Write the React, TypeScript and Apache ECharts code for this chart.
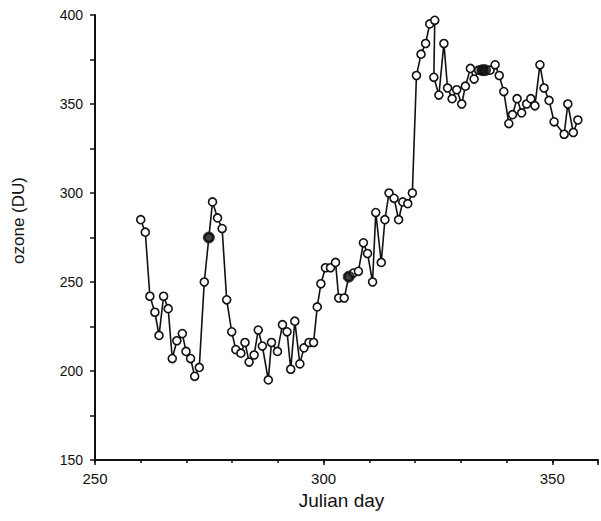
import React, { useEffect, useRef } from "react";
import * as echarts from "echarts";

const days = [
  260, 261, 262, 263.1, 264, 265, 266, 266.9, 267.9, 269.1, 269.9, 270.9, 271.8, 272.8, 273.9, 274.9,
  275.7, 276.8, 277.8, 278.8, 279.9, 280.8, 281.9, 282.8, 283.7, 284.8, 285.7, 286.6, 287.9, 288.6,
  289.9, 291, 292, 292.8, 293.7, 294.8, 295.7, 296.8, 297.8, 298.6, 299.4, 300.4, 301.5, 302.6,
  303.3, 304.5, 305.5, 306.5, 307.6, 308.7, 309.6, 310.7, 311.4, 312.6, 313.4, 314.3, 315.4, 316.4,
  317.3, 318.4, 319.4, 320.3, 321.3, 322.3, 323.2, 324.3, 324.1, 325.2, 326.3, 327.1, 328.1, 329.1,
  330.2, 331, 332.1, 332.9, 333.9, 334.7, 335.3, 336.4, 337.5, 338.4, 339.4, 340.5, 341.3, 342.3,
  343.3, 344.4, 345.3, 346.2, 347.3, 348.2, 349.3, 350.4, 352.6, 353.4, 354.6, 355.6,
];

const ozone = [
  285, 278, 242, 233, 220, 242, 235, 207, 217, 221, 211, 207, 197, 202, 250, 275,
  295, 286, 280, 240, 222, 212, 210, 216, 205, 209, 223, 214, 195, 216,
  211, 226, 222, 201, 228, 204, 213, 216, 216, 236, 249, 258, 258, 261,
  241, 241, 253, 255, 256, 272, 266, 250, 289, 261, 285, 300, 297, 285,
  295, 294, 300, 366, 378, 384, 395, 397, 365, 355, 384, 359, 353, 358,
  350, 360, 370, 364, 369, 369, 369, 369, 372, 366, 357, 339, 344, 353,
  345, 350, 353, 349, 372, 359, 352, 340, 333, 350, 334, 341,
];

// days of the filled (solid) markers
const filledDays = [274.9, 305.5, 334.7, 335.3];

const xTickLabels = [250, 300, 350];
const yTickLabels = [150, 200, 250, 300, 350, 400];

export default function App() {
  const ref = useRef<HTMLDivElement>(null);
  useEffect(() => {
    document.body.style.margin = "0";
    const chart = echarts.init(ref.current!, null, { renderer: "svg" });
    const pts = days.map((d, i) => [d, ozone[i]]);
    const filled = pts.filter((p) => filledDays.includes(p[0] as number));
    const font = "'Liberation Sans', Arial, Helvetica, sans-serif";
    chart.setOption({
      animation: false,
      backgroundColor: "#ffffff",
      grid: { left: 95, right: 0, top: 15, bottom: 61 },
      xAxis: [
        {
          type: "value",
          min: 250,
          max: 360,
          interval: 50,
          name: "Julian day",
          nameLocation: "middle",
          nameGap: 30,
          nameTextStyle: { fontFamily: font, fontSize: 19, color: "#111", padding: [0, 10, 0, 0] },
          axisLine: { show: true, lineStyle: { color: "#111", width: 2 } },
          axisTick: { show: true, length: 5, lineStyle: { color: "#111", width: 1.5 } },
          axisLabel: {
            fontFamily: font,
            fontSize: 15,
            color: "#111",
            margin: 11,
            formatter: (v: number) => (xTickLabels.includes(v) ? String(v) : ""),
          },
          splitLine: { show: false },
        },
        {
          type: "value",
          min: 250,
          max: 360,
          interval: 10,
          position: "bottom",
          axisLine: { show: false },
          axisTick: { show: true, length: 3, lineStyle: { color: "#111", width: 1.5 } },
          axisLabel: { show: false },
          splitLine: { show: false },
        },
      ],
      yAxis: {
        type: "value",
        min: 150,
        max: 400,
        interval: 25,
        name: "ozone (DU)",
        nameLocation: "middle",
        nameGap: 68,
        nameTextStyle: { fontFamily: font, fontSize: 17, color: "#111", padding: [0, 0, 0, 34] },
        axisLine: { show: true, lineStyle: { color: "#111", width: 2 } },
        axisTick: { show: true, length: 5, lineStyle: { color: "#111", width: 1.5 } },
        axisLabel: {
          fontFamily: font,
          fontSize: 14,
          color: "#111",
          margin: 12,
          formatter: (v: number) => (yTickLabels.includes(v) ? String(v) : ""),
        },
        splitLine: { show: false },
      },
      series: [
        {
          type: "line",
          data: pts,
          xAxisIndex: 0,
          symbol: "circle",
          symbolSize: 8,
          showAllSymbol: true,
          lineStyle: { color: "#111", width: 1.6 },
          itemStyle: { color: "#ffffff", borderColor: "#111", borderWidth: 1.6 },
          z: 2,
        },
        {
          type: "scatter",
          data: filled,
          xAxisIndex: 0,
          symbol: "circle",
          symbolSize: 11,
          itemStyle: { color: "#111", borderColor: "#111", borderWidth: 1 },
          z: 3,
        },
      ],
    });
    return () => chart.dispose();
  }, []);
  return <div ref={ref} style={{ width: 601, height: 521 }} />;
}
